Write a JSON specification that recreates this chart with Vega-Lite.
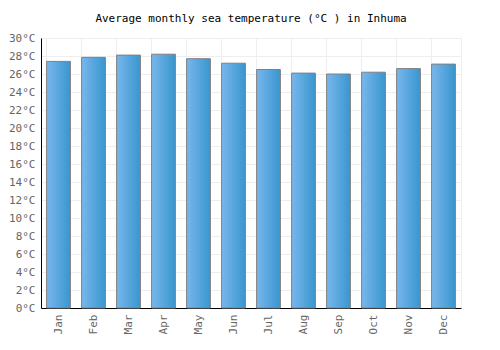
{
  "$schema": "https://vega.github.io/schema/vega-lite/v6.json",
  "width": 420,
  "height": 270,
  "autosize": "none",
  "padding": {"left": 41, "top": 38, "right": 39, "bottom": 42},
  "background": "white",
  "title": {
    "text": "Average monthly sea temperature (°C ) in Inhuma",
    "font": "DejaVu Sans Mono",
    "fontSize": 11,
    "fontWeight": "normal",
    "color": "#000000",
    "offset": 8,
    "anchor": "middle"
  },
  "config": {
    "view": {"stroke": "#eeeeee"},
    "axis": {
      "labelFont": "DejaVu Sans Mono",
      "labelFontSize": 11,
      "labelColor": "#666666",
      "gridColor": "#eeeeee",
      "domainColor": "#000000",
      "ticks": false
    }
  },
  "data": {
    "values": [
      {"month": "Jan", "temp": 27.4},
      {"month": "Feb", "temp": 27.85},
      {"month": "Mar", "temp": 28.1},
      {"month": "Apr", "temp": 28.2},
      {"month": "May", "temp": 27.7},
      {"month": "Jun", "temp": 27.2},
      {"month": "Jul", "temp": 26.5},
      {"month": "Aug", "temp": 26.1},
      {"month": "Sep", "temp": 26.0},
      {"month": "Oct", "temp": 26.2},
      {"month": "Nov", "temp": 26.6},
      {"month": "Dec", "temp": 27.1}
    ]
  },
  "mark": {
    "type": "bar",
    "stroke": "#808080",
    "strokeWidth": 1,
    "fill": {
      "gradient": "linear",
      "x1": 0, "x2": 1, "y1": 0, "y2": 0,
      "stops": [
        {"offset": 0, "color": "#78b7ec"},
        {"offset": 1, "color": "#3896cf"}
      ]
    }
  },
  "encoding": {
    "x": {
      "field": "month",
      "type": "nominal",
      "sort": null,
      "title": null,
      "scale": {"paddingInner": 0.32, "paddingOuter": 0.16},
      "axis": {
        "labelAngle": -90,
        "labelPadding": 6,
        "grid": true,
        "bandPosition": 0,
        "labelOffset": 0,
        "domainWidth": 1
      }
    },
    "y": {
      "field": "temp",
      "type": "quantitative",
      "title": null,
      "scale": {"domain": [0, 30], "nice": false},
      "axis": {
        "values": [0,2,4,6,8,10,12,14,16,18,20,22,24,26,28,30],
        "labelExpr": "datum.value + '°C'",
        "labelPadding": 6,
        "grid": true,
        "domainWidth": 1
      }
    }
  }
}
